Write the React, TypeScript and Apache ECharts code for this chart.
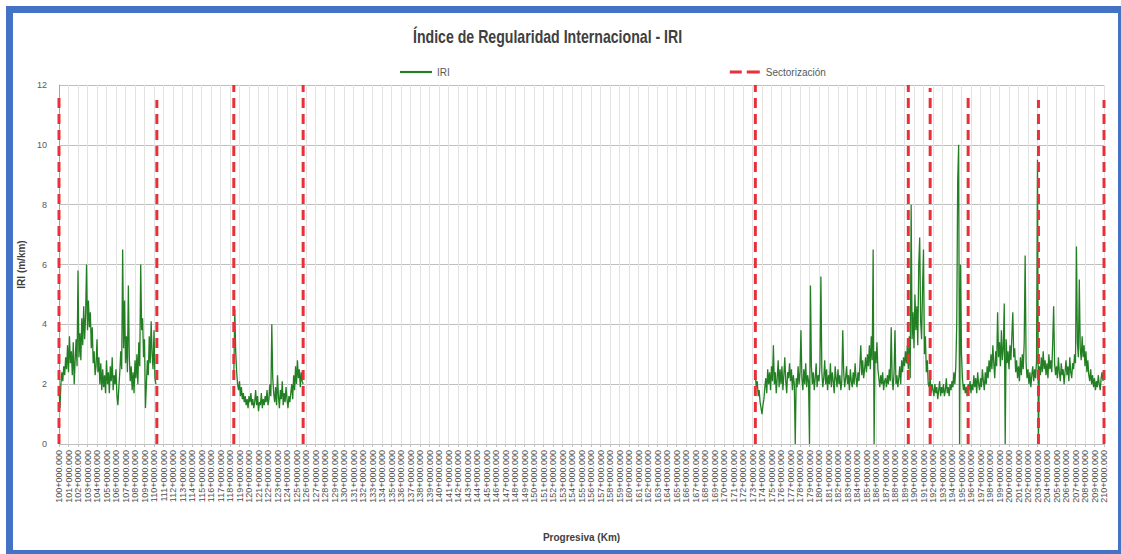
import React, { useEffect, useRef } from "react";
import * as echarts from "echarts";

// ---------- DATA ----------
const kmStart = 100; // first progresiva (km)
const kmEnd = 210;   // last progresiva (km)
const sampleStep = 0.1; // km between IRI readings

// IRI segments (m/km), each with its starting progresiva
const seg1Start = 100.0;
const seg1 = [
  1.9, 1.2, 2.0, 2.4, 2.1, 2.6,
  2.3, 2.9, 2.5, 3.3, 2.4,
  3.6, 2.7, 3.1, 2.3, 3.4,
  2.0, 2.8, 3.5, 2.6, 5.8,
  2.9, 3.7, 2.8, 4.2, 3.3,
  4.6, 3.5, 4.3, 6.0, 3.8,
  4.8, 3.9, 4.4, 3.2, 3.9,
  2.7, 3.1, 2.3, 2.6, 3.5,
  2.4, 2.9, 2.0, 2.7, 1.8,
  2.5, 1.9, 2.3, 1.7, 2.8,
  2.0, 2.4, 1.7, 2.6, 2.1,
  2.9, 1.8, 2.3, 2.0, 2.5,
  1.6, 1.3, 1.9, 2.4, 3.1,
  2.5, 6.5, 3.2, 4.8, 2.7,
  3.6, 2.4, 5.3, 2.9, 2.1,
  2.6, 1.8, 2.4, 1.7, 2.8,
  2.2, 3.0, 2.0, 3.4, 2.6,
  6.0, 3.8, 4.2, 2.9, 3.5,
  1.2, 2.0, 2.8, 2.3, 3.6,
  2.7, 4.1, 3.0, 2.5, 3.8,
  2.2, 2.0,
];

const seg2Start = 118.4;
const seg2 = [
  2.2, 4.5, 3.1, 2.4, 2.0,
  1.8, 2.1, 1.6, 1.9, 1.5,
  1.7, 1.4, 1.6, 1.3, 1.5,
  1.2, 1.6, 1.4, 1.7, 1.3,
  1.5, 1.2, 1.4, 1.8, 1.3,
  1.6, 1.1, 1.4, 1.3, 1.7,
  1.2, 1.5, 1.3, 1.6, 1.4,
  1.8, 1.3, 1.5, 2.0, 1.6,
  4.0, 2.2, 1.7, 1.4, 1.9,
  1.3, 2.3, 1.6, 1.2, 1.8,
  1.5, 2.1, 1.3, 1.7, 1.4,
  1.9, 1.5, 1.2, 1.6, 1.4,
  1.7, 2.0, 1.5, 2.3, 1.8,
  2.6, 2.0, 2.8, 2.2, 2.5,
  1.9, 2.4, 2.1, 2.0,
];

const seg3Start = 173.3;
const seg3 = [
  2.3, 1.9, 2.1, 1.6, 1.8, 1.4, 1.2,
  1.0, 1.3, 1.5, 1.9, 2.2, 1.7, 2.5, 2.0, 2.4, 1.8,
  2.6, 2.1, 3.3, 2.0, 2.4, 1.7, 2.2, 2.8, 1.9, 2.5,
  2.0, 2.6, 1.8, 2.3, 2.9, 2.1, 1.7, 2.4, 2.2, 2.7,
  2.1, 2.5, 1.8, 2.3, 2.0, 0.0, 2.2, 1.9, 2.6, 2.0,
  2.4, 3.8, 2.2, 1.8, 2.5, 2.0, 2.7, 1.9, 2.3, 2.1,
  0.0, 5.3, 2.6, 2.0, 2.4, 1.8, 2.2, 2.7, 1.9, 2.3,
  2.1, 2.6, 5.6, 2.4, 1.9, 2.2, 2.8, 2.0, 2.5, 1.8,
  2.3, 2.0, 2.7, 1.9, 2.4, 2.1, 1.7, 2.6, 2.2, 1.9,
  2.5, 2.0, 2.3, 1.8, 2.1, 3.8, 2.4, 1.9, 2.2, 2.6,
  2.0, 2.3, 1.8, 2.5, 2.1, 1.9, 2.4, 2.0, 2.7, 2.2,
  1.9, 2.4, 2.1, 2.6, 3.3, 2.3, 2.8, 2.2, 2.5, 2.9,
  2.4, 3.0, 2.6, 3.3, 2.5, 3.6, 2.8, 6.5, 0.0, 3.1,
  2.7, 3.4, 2.5, 2.2, 1.9, 2.3, 2.0, 2.4, 1.8, 2.1,
  2.2, 1.9, 2.3, 2.0, 2.5, 2.1, 3.9, 2.2, 1.8, 2.4,
  3.8, 2.0, 2.3, 1.9, 2.2, 2.6, 2.0, 2.8, 2.4, 2.9,
  2.6, 3.1, 2.7, 3.3, 2.5, 3.6, 2.2, 8.0, 3.5, 4.4,
  3.2, 5.0, 3.8, 4.6, 3.3, 6.0, 6.9, 4.1, 3.5, 5.2,
  6.5, 3.0, 3.6, 2.4, 2.8, 2.0, 1.9, 2.2, 1.7, 2.0,
  1.8, 1.6, 2.0, 1.7, 1.9, 1.5, 1.8, 2.1, 1.6, 1.9,
  1.7, 2.0, 1.6, 1.8, 2.2, 1.7, 1.9, 1.6, 2.0, 1.8,
  2.1, 1.9, 2.4, 2.0, 2.6, 4.0, 8.8, 10.0, 0.0, 6.0,
  3.0, 2.2, 1.8, 2.0, 1.7, 1.9, 1.6, 2.0, 1.8, 2.1,
  1.7, 2.0, 1.8, 2.3, 1.9, 2.2, 1.7, 2.4, 2.0, 1.8,
  2.2, 1.9, 2.5, 2.1, 1.8, 2.4, 2.0, 2.6, 2.2, 2.8,
  2.4, 3.0, 2.5, 3.3, 2.7, 2.2, 3.1, 2.6, 4.4, 2.9,
  3.4, 2.6, 3.8, 2.8, 3.2, 4.7, 0.0, 3.5, 2.7, 3.1,
  2.5, 3.3, 2.8, 3.6, 4.4, 2.9, 3.2, 2.4, 2.8, 2.2,
  2.6, 2.1, 2.9, 2.3, 3.0, 2.5, 3.4, 6.3, 2.7, 2.2,
  2.5, 2.0, 2.4, 1.9, 2.3, 2.6, 2.1, 2.5, 2.2, 2.8,
  9.5, 0.0, 2.6, 2.3, 2.9, 2.4, 3.1, 2.5, 2.8, 2.3,
  2.7, 2.2, 3.0, 2.5, 2.8, 2.4, 3.4, 4.6, 2.7, 2.3,
  2.6, 2.2, 2.9, 2.4, 2.1, 2.7, 2.3, 2.5, 2.0, 2.4,
  2.8, 2.3, 2.6, 2.1, 2.9, 2.4, 2.2, 2.7, 2.5, 3.0,
  2.7, 6.6, 3.4, 2.9, 5.5, 3.2, 2.8, 3.6, 2.9, 3.3,
  2.6, 3.1, 2.4, 2.8, 2.3, 2.1, 2.5, 2.0, 2.3, 1.9,
  2.2, 1.8, 2.1, 1.9, 2.3, 2.0, 1.8, 2.2, 2.4, 2.1,
];

// Sectorización boundaries (km) and the height each dashed line reaches
const sectorKm = [100, 110.3, 118.4, 125.7, 173.3, 189.4, 191.7, 195.7, 203.1, 210];
const sectorTop = [11.7, 11.5, 12, 12, 12, 12, 11.9, 11.7, 11.5, 11.5];

const yTicks = { min: 0, max: 12, interval: 2 };

const title = "Índice de Regularidad Internacional - IRI";
const yName = "IRI (m/km)";
const xName = "Progresiva (Km)";
const seriesNames = ["IRI", "Sectorización"];

// ---------- BUILD ----------
function buildIri(): (number | null)[][] {
  const out: (number | null)[][] = [];
  const segs: [number, number[]][] = [
    [seg1Start, seg1],
    [seg2Start, seg2],
    [seg3Start, seg3],
  ];
  segs.forEach(([start, vals], si) => {
    vals.forEach((v, i) => {
      out.push([+(start + i * sampleStep).toFixed(2), v]);
    });
    if (si < segs.length - 1) {
      const lastX = +(start + (vals.length - 1) * sampleStep).toFixed(2);
      out.push([lastX + 0.05, null]);
    }
  });
  return out;
}

function buildSectors(): (number | null)[][] {
  const out: (number | null)[][] = [];
  sectorKm.forEach((k, i) => {
    out.push([k, 0]);
    out.push([k, sectorTop[i]]);
    out.push([k, null]);
  });
  return out;
}

const FONT = "'Liberation Sans', Arial, sans-serif";
const GREEN = "#237f23";
const RED = "#e8303a";

export default function App() {
  const ref = useRef<HTMLDivElement>(null);
  useEffect(() => {
    if (!ref.current) return;
    const chart = echarts.init(ref.current, undefined, { renderer: "svg" });
    chart.setOption({
      animation: false,
      backgroundColor: "#ffffff",
      textStyle: { fontFamily: FONT },
      legend: {
        data: [
          { name: seriesNames[0], icon: "path://M0,0h30v2h-30z" },
          { name: seriesNames[1], icon: "path://M0,0h12v3h-12z M17,0h13v3h-13z" },
        ],
        left: 395,
        top: 62,
        itemWidth: 32,
        itemHeight: 3,
        itemGap: 280,
        textStyle: { fontFamily: FONT, fontSize: 10, color: "#595959" },
      },
      grid: { left: 59, right: 17, top: 85, bottom: 110, containLabel: false },
      xAxis: {
        type: "value",
        min: kmStart,
        max: kmEnd,
        interval: 1,
        name: xName,
        nameLocation: "middle",
        nameGap: 88,
        nameTextStyle: { fontFamily: FONT, fontSize: 10, fontWeight: "bold", color: "#404040" },
        axisLine: { show: true, lineStyle: { color: "#bfbfbf" } },
        axisTick: { show: true, length: 3, lineStyle: { color: "#bfbfbf" } },
        axisLabel: {
          rotate: 90,
          fontSize: 9,
          color: "#505050",
          margin: 6,
          formatter: (v: number) => `${Math.round(v)}+000.000`,
        },
        splitLine: { show: true, lineStyle: { color: "#e3e3e3", width: 1 } },
      },
      yAxis: {
        type: "value",
        min: yTicks.min,
        max: yTicks.max,
        interval: yTicks.interval,
        name: yName,
        nameLocation: "middle",
        nameGap: 21,
        nameTextStyle: { fontFamily: FONT, fontSize: 10, fontWeight: "bold", color: "#404040" },
        axisLine: { show: true, lineStyle: { color: "#a6a6a6" } },
        axisTick: { show: false },
        axisLabel: { fontSize: 9, color: "#595959", margin: 12 },
        splitLine: { show: true, lineStyle: { color: "#bfbfbf", width: 1 } },
      },
      series: [
        {
          name: seriesNames[0],
          type: "line",
          data: buildIri(),
          showSymbol: false,
          symbol: "none",
          connectNulls: false,
          lineStyle: { color: GREEN, width: 1.3 },
          itemStyle: { color: GREEN },
          z: 3,
        },
        {
          name: seriesNames[1],
          type: "line",
          data: buildSectors(),
          showSymbol: false,
          symbol: "none",
          connectNulls: false,
          lineStyle: { color: RED, width: 3, type: [10, 6] },
          itemStyle: { color: RED },
          z: 4,
        },
      ],
      graphic: [
        {
          type: "text",
          x: 413,
          y: 27,
          scaleX: 0.785,
          style: {
            text: title,
            font: `bold 18px ${FONT}`,
            fill: "#404040",
            textVerticalAlign: "top",
            textAlign: "left",
          },
          silent: true,
        },
        {
          type: "rect",
          shape: { x: 9.5, y: 9.5, width: 1112, height: 544 },
          style: { fill: "none", stroke: "#4472c4", lineWidth: 7 },
          silent: true,
          z: 10,
        },
      ],
    });
    return () => chart.dispose();
  }, []);
  return (
    <div
      ref={ref}
      style={{ position: "absolute", left: 0, top: 0, width: 1121, height: 554 }}
    />
  );
}
